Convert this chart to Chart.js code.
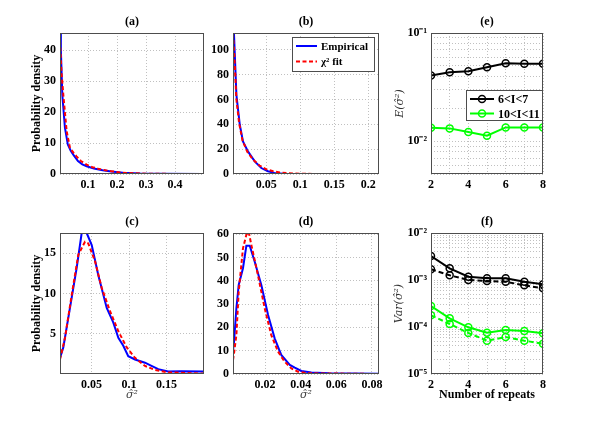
<!DOCTYPE html>
<html>
<head>
<meta charset="utf-8">
<script src="https://cdn.jsdelivr.net/npm/chart.js@4.4.0/dist/chart.umd.min.js"></script>
<style>
    html, body { margin: 0; padding: 0; background: #fff; }
    #fig { position: relative; width: 600px; height: 421px; overflow: hidden; background: #fff; }
    #fig canvas { position: absolute; }
</style>
</head>
<body>
<div id="fig">
    <canvas id="chartA" width="214" height="200" style="left:0px;top:0px"></canvas>
    <canvas id="chartB" width="186" height="200" style="left:203px;top:0px"></canvas>
    <canvas id="chartE" width="172" height="200" style="left:381px;top:0px"></canvas>
    <canvas id="chartC" width="214" height="221" style="left:0px;top:200px"></canvas>
    <canvas id="chartD" width="186" height="221" style="left:203px;top:200px"></canvas>
    <canvas id="chartF" width="172" height="221" style="left:381px;top:200px"></canvas>
</div>
<script>
// --- Données ---
// (a)
const aBlueX = [0.003, 0.006, 0.011, 0.02, 0.03, 0.04, 0.05, 0.065, 0.08, 0.095, 0.12, 0.15, 0.18, 0.22, 0.28, 0.35, 0.5];
const aBlueY = [48, 40, 25.5, 15, 9.5, 7.5, 6.1, 4.2, 3.1, 2.5, 1.8, 1.2, 0.8, 0.4, 0.15, 0.05, 0.02];
const aRedX = [0.003, 0.008, 0.0145, 0.026, 0.0375, 0.05, 0.06, 0.075, 0.095, 0.115, 0.135, 0.16, 0.18, 0.21, 0.24, 0.3, 0.4, 0.5];
const aRedY = [43, 33, 25.5, 13.8, 8.4, 6.8, 5.7, 4.2, 3.0, 2.2, 1.7, 1.2, 0.9, 0.5, 0.3, 0.1, 0.02, 0];
const aXTicks = [0.1, 0.2, 0.3, 0.4];
const aYTicks = [0, 10, 20, 30, 40];

// (b)
const bBlueX = [0.001, 0.0025, 0.006, 0.011, 0.0157, 0.023, 0.033, 0.0427, 0.0525, 0.062, 0.075, 0.1, 0.216];
const bBlueY = [118, 112, 63.7, 39.6, 26.3, 18.2, 10.2, 4.8, 2.2, 0.9, 0.3, 0.1, 0];
const bRedX = [0.001, 0.003, 0.006, 0.01, 0.015, 0.022, 0.03, 0.04, 0.05, 0.06, 0.07, 0.08, 0.1, 0.12, 0.216];
const bRedY = [113, 95, 60, 41, 27, 18, 12, 6.8, 3.8, 2.2, 1.3, 0.7, 0.25, 0.05, 0];
const bXTicks = [0.05, 0.1, 0.15, 0.2];
const bYTicks = [0, 20, 40, 60, 80, 100];

// (c)
const cBlueX = [0.008, 0.0124, 0.0213, 0.0303, 0.0369, 0.0436, 0.0503, 0.059, 0.0703, 0.079, 0.0858, 0.0924, 0.099, 0.108, 0.1213, 0.13, 0.139, 0.152, 0.17, 0.2];
const cBlueY = [2.0, 3.3, 8.2, 13.2, 17.5, 17.5, 16.0, 12.3, 8.2, 6.4, 4.5, 3.5, 2.2, 1.8, 1.4, 1.0, 0.6, 0.3, 0.35, 0.3];
const cRedX = [0.008, 0.0147, 0.0236, 0.0324, 0.0413, 0.0457, 0.0547, 0.0636, 0.0747, 0.0858, 0.097, 0.108, 0.1213, 0.1347, 0.152, 0.2];
const cRedY = [1.8, 4.5, 9.8, 14.8, 16.4, 16.2, 14.0, 10.7, 7.8, 5.3, 3.3, 2.0, 1.0, 0.5, 0.2, 0.05];
const cXTicks = [0.05, 0.1, 0.15];
const cYTicks = [5, 10, 15];

// (d)
const dBlueX = [0.002, 0.0026, 0.0039, 0.0052, 0.0076, 0.0095, 0.0114, 0.0142, 0.0179, 0.0217, 0.0254, 0.0291, 0.0339, 0.0367, 0.0404, 0.046, 0.056, 0.084];
const dBlueY = [10, 14, 28.2, 38.2, 45.4, 55, 55, 48.2, 38.2, 25.3, 15.3, 8.2, 3.9, 2.7, 1.3, 0.6, 0.3, 0.1];
const dRedX = [0.002, 0.0026, 0.0039, 0.0052, 0.0076, 0.0095, 0.0108, 0.0123, 0.016, 0.0198, 0.0235, 0.0273, 0.031, 0.0348, 0.0385, 0.0441, 0.084];
const dRedY = [6, 9, 16.7, 35.3, 53.9, 59.7, 61, 55.4, 42.5, 28.2, 16.7, 9.6, 5.3, 2.4, 1.0, 0.3, 0];
const dXTicks = [0.02, 0.04, 0.06, 0.08];
const dYTicks = [0, 10, 20, 30, 40, 50, 60];

// (e) et (f)
const repeats = [2, 3, 4, 5, 6, 7, 8];
const eLowBand = [0.0405, 0.0435, 0.0444, 0.0484, 0.0526, 0.0519, 0.0519];
const eHighBand = [0.01337, 0.01318, 0.0122, 0.01128, 0.01346, 0.01346, 0.01346];
const fLowSolid = [0.00324, 0.00177, 0.001175, 0.001087, 0.001087, 0.00092, 0.00081];
const fLowDash = [0.00169, 0.00126, 0.0010, 0.00095, 0.00092, 0.00077, 0.000665];
const fHighSolid = [0.00028, 0.000153, 0.0000986, 0.0000757, 0.0000863, 0.0000822, 0.0000734];
const fHighDash = [0.0001775, 0.000116, 0.0000745, 0.0000512, 0.0000612, 0.0000512, 0.0000441];
const repeatTicks = [2, 3, 4, 5, 6, 7, 8];
const eYTicks = [0.005, 0.006, 0.007, 0.008, 0.009, 0.01, 0.02, 0.03, 0.04, 0.05, 0.06, 0.07, 0.08, 0.09, 0.1];
const fYTicks = logGrid(-5, -2);

const serif = "'Liberation Serif', 'Times New Roman', serif";
const mathSerif = "'DejaVu Serif', serif";

function logGrid(fromExp, toExp) {
    const out = [];
    for (let e = fromExp; e < toExp; e++) {
        for (let m = 1; m < 10; m++) out.push(m * Math.pow(10, e));
    }
    out.push(Math.pow(10, toExp));
    return out;
}

function linePoints(xs, ys) {
    return xs.map((x, i) => ({ x: x, y: ys[i] }));
}

function powerLabel(v) {
    const p = Math.log10(v);
    if (Math.abs(p - Math.round(p)) > 1e-6) return '';
    const sup = { '-': '⁻', '0': '⁰', '1': '¹', '2': '²', '3': '³', '4': '⁴', '5': '⁵' };
    return '10' + String(Math.round(p)).split('').map(c => sup[c]).join('');
}

// cadre, titre (a)...(f) et légende encadrée
const panelFrame = {
    id: 'panelFrame',
    afterDraw(chart, args, opts) {
        const { ctx, chartArea } = chart;
        ctx.save();
        ctx.strokeStyle = '#4d4d4d';
        ctx.lineWidth = 1;
        ctx.strokeRect(chartArea.left + 0.5, chartArea.top + 0.5, chartArea.width - 1, chartArea.height - 1);
        ctx.fillStyle = '#000';
        ctx.font = 'bold 12px ' + serif;
        ctx.textAlign = 'center';
        ctx.textBaseline = 'middle';
        ctx.fillText(opts.title, (chartArea.left + chartArea.right) / 2, chartArea.top - 11);
        const lg = opts.legend;
        if (lg) {
            const x0 = Math.round(chartArea.right - lg.right - lg.width);
            const y0 = Math.round(chartArea.top + lg.top);
            ctx.fillStyle = '#fff';
            ctx.fillRect(x0, y0, lg.width, lg.height);
            ctx.strokeStyle = '#4d4d4d';
            ctx.lineWidth = 1;
            ctx.strokeRect(x0 + 0.5, y0 + 0.5, lg.width, lg.height);
            lg.items.forEach((idx, row) => {
                const ds = chart.data.datasets[idx];
                const y = y0 + lg.firstRow + row * lg.rowGap;
                ctx.beginPath();
                ctx.setLineDash(ds.borderDash || []);
                ctx.strokeStyle = ds.borderColor;
                ctx.lineWidth = ds.borderWidth;
                ctx.moveTo(x0 + lg.lineStart, y);
                ctx.lineTo(x0 + lg.lineEnd, y);
                ctx.stroke();
                ctx.setLineDash([]);
                if (ds.pointRadius) {
                    ctx.beginPath();
                    ctx.lineWidth = ds.pointBorderWidth;
                    ctx.arc(x0 + (lg.lineStart + lg.lineEnd) / 2, y, ds.pointRadius, 0, 2 * Math.PI);
                    ctx.stroke();
                }
                ctx.fillStyle = '#000';
                ctx.font = lg.font;
                ctx.textAlign = 'left';
                ctx.fillText(ds.label, x0 + lg.textStart, y + 1);
            });
        }
        ctx.restore();
    }
};

const tickFont = { family: serif, size: 12, weight: 'bold' };
const gridStyle = { color: '#c0c0c0', lineWidth: 1, drawTicks: false };
const borderStyle = { display: false, dash: [1, 2] };

const blueLine = { borderColor: '#0000ff', borderWidth: 2, pointRadius: 0, tension: 0, order: 1 };
const redLine = { borderColor: '#ff0000', borderWidth: 2, borderDash: [4, 2.5], pointRadius: 0, tension: 0, order: 0 };

function marked(color, dashed) {
    return {
        borderColor: color, borderWidth: 2, borderDash: dashed ? [5, 3] : [],
        pointRadius: 3.5, pointBorderWidth: 1.5, pointBorderColor: color,
        pointBackgroundColor: 'rgba(0,0,0,0)', tension: 0
    };
}

function makePanel(id, cfg) {
    return new Chart(document.getElementById(id).getContext("2d"), {
        type: 'line',
        data: { datasets: cfg.datasets },
        options: {
            responsive: false,
            animation: false,
            devicePixelRatio: 1,
            events: [],
            layout: { padding: { top: 33, right: 10, left: 0, bottom: 0 } },
            plugins: {
                legend: { display: false },
                tooltip: { enabled: false },
                panelFrame: { title: cfg.title, legend: cfg.legend }
            },
            scales: {
                x: {
                    type: 'linear',
                    min: cfg.xMin,
                    max: cfg.xMax,
                    afterBuildTicks: s => { s.ticks = cfg.xTicks.map(v => ({ value: v })); },
                    afterFit: s => { s.height = cfg.xHeight; },
                    grid: gridStyle,
                    border: borderStyle,
                    ticks: {
                        font: tickFont, color: '#000', padding: 4, maxRotation: 0, autoSkip: false,
                        callback: cfg.xLabel || (v => String(v))
                    },
                    title: cfg.xTitle || { display: false }
                },
                y: {
                    type: cfg.yType || 'linear',
                    min: cfg.yMin,
                    max: cfg.yMax,
                    afterBuildTicks: s => { s.ticks = cfg.yTicks.map(v => ({ value: v })); },
                    afterFit: s => { s.width = cfg.yWidth; },
                    grid: gridStyle,
                    border: borderStyle,
                    ticks: {
                        font: tickFont, color: '#000', padding: 4, autoSkip: false,
                        callback: cfg.yLabel || (v => String(v))
                    },
                    title: cfg.yTitle || { display: false }
                }
            }
        },
        plugins: [panelFrame]
    });
}

const densityTitle = {
    display: true, text: 'Probability density', color: '#000',
    font: { family: serif, size: 12, weight: 'bold' }, padding: { top: 30, bottom: 0 }
};
const sigmaTitle = {
    display: true, text: 'σ̂²', color: '#444',
    font: { family: mathSerif, size: 11, style: 'italic' }, padding: { top: 0, bottom: 19 }
};
const fitLegend = {
    items: [0, 1], right: 5, top: 4, width: 82, height: 34, firstRow: 9, rowGap: 15.5,
    lineStart: 4, lineEnd: 25, textStart: 29, font: 'bold 11px ' + serif
};

makePanel("chartA", {
    title: '(a)', xMin: 0.003, xMax: 0.5, xTicks: aXTicks, yMin: 0, yMax: 45.5, yTicks: aYTicks,
    yWidth: 60, xHeight: 26, yTitle: densityTitle,
    datasets: [
        { label: 'Empirical', data: linePoints(aBlueX, aBlueY), ...blueLine },
        { label: 'χ² fit', data: linePoints(aRedX, aRedY), ...redLine }
    ]
});

makePanel("chartB", {
    title: '(b)', xMin: 0.001, xMax: 0.216, xTicks: bXTicks, yMin: 0, yMax: 113.5, yTicks: bYTicks,
    yWidth: 30, xHeight: 26, legend: fitLegend,
    datasets: [
        { label: 'Empirical', data: linePoints(bBlueX, bBlueY), ...blueLine },
        { label: 'χ² fit', data: linePoints(bRedX, bRedY), ...redLine }
    ]
});

makePanel("chartC", {
    title: '(c)', xMin: 0.008, xMax: 0.2, xTicks: cXTicks, yMin: 0, yMax: 17.5, yTicks: cYTicks,
    yWidth: 60, xHeight: 47, yTitle: densityTitle, xTitle: sigmaTitle,
    datasets: [
        { label: 'Empirical', data: linePoints(cBlueX, cBlueY), ...blueLine },
        { label: 'χ² fit', data: linePoints(cRedX, cRedY), ...redLine }
    ]
});

makePanel("chartD", {
    title: '(d)', xMin: 0.002, xMax: 0.084, xTicks: dXTicks, yMin: 0, yMax: 60.5, yTicks: dYTicks,
    yWidth: 30, xHeight: 47, xTitle: sigmaTitle,
    datasets: [
        { label: 'Empirical', data: linePoints(dBlueX, dBlueY), ...blueLine },
        { label: 'χ² fit', data: linePoints(dRedX, dRedY), ...redLine }
    ]
});

makePanel("chartE", {
    title: '(e)', xMin: 2, xMax: 8, xTicks: repeatTicks, xLabel: v => (v % 2 === 0 ? String(v) : ''),
    yType: 'logarithmic', yMin: 0.005, yMax: 0.1, yTicks: eYTicks, yLabel: powerLabel,
    yWidth: 50, xHeight: 26,
    yTitle: {
        display: true, text: 'E(σ̂²)', color: '#333',
        font: { family: mathSerif, size: 11, style: 'italic' }, padding: { top: 13, bottom: 0 }
    },
    legend: {
        items: [0, 1], right: 1, top: 57, width: 76, height: 30, firstRow: 9, rowGap: 14.5,
        lineStart: 4, lineEnd: 28, textStart: 32, font: 'bold 12px ' + serif
    },
    datasets: [
        { label: '6<I<7', data: linePoints(repeats, eLowBand), ...marked('#000000', false) },
        { label: '10<I<11', data: linePoints(repeats, eHighBand), ...marked('#00ff00', false) }
    ]
});

makePanel("chartF", {
    title: '(f)', xMin: 2, xMax: 8, xTicks: repeatTicks, xLabel: v => (v % 2 === 0 ? String(v) : ''),
    yType: 'logarithmic', yMin: 0.00001, yMax: 0.01, yTicks: fYTicks, yLabel: powerLabel,
    yWidth: 50, xHeight: 47,
    yTitle: {
        display: true, text: 'Var(σ̂²)', color: '#333',
        font: { family: mathSerif, size: 11, style: 'italic' }, padding: { top: 12, bottom: 0 }
    },
    xTitle: {
        display: true, text: 'Number of repeats', color: '#000',
        font: { family: serif, size: 12, weight: 'bold' }, padding: { top: 0, bottom: 19 }
    },
    datasets: [
        { label: '6<I<7', data: linePoints(repeats, fLowSolid), ...marked('#000000', false) },
        { label: '6<I<7', data: linePoints(repeats, fLowDash), ...marked('#000000', true) },
        { label: '10<I<11', data: linePoints(repeats, fHighSolid), ...marked('#00ff00', false) },
        { label: '10<I<11', data: linePoints(repeats, fHighDash), ...marked('#00ff00', true) }
    ]
});
</script>
</body>
</html>
